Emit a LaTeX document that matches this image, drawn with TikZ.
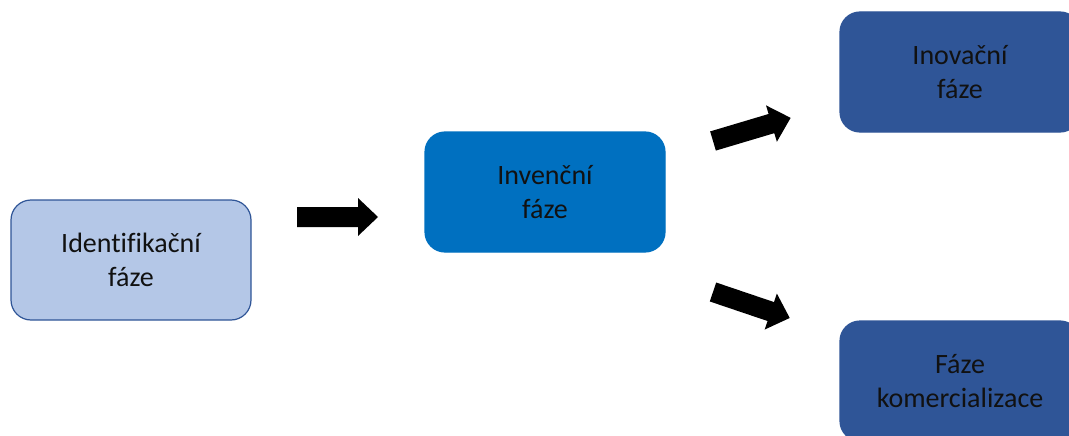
\documentclass[tikz,border=0pt]{standalone}
\usepackage{fontspec}
\setmainfont{Carlito}[Ligatures=NoCommon]
\definecolor{lightblue}{HTML}{B4C7E7}
\definecolor{midblue}{HTML}{0070C0}
\definecolor{darkblue}{HTML}{2F5597}
\definecolor{labelink}{HTML}{111111}
\begin{document}
\begin{tikzpicture}[x=1pt,y=-1pt,
  phase/.style={rectangle, rounded corners=20pt, minimum width=240pt,
    minimum height=120pt, line width=1.2pt, align=center, inner sep=0pt,
    text=labelink, font=\fontsize{28}{34}\selectfont},
  blockarrow/.style={fill=black}]
\useasboundingbox (0,0) rectangle (1069,436);
\clip (0,0) rectangle (1069,436);

\node[phase, fill=lightblue, draw=darkblue] (ident) at (131,260) {Identifikační\\fáze};
\node[phase, fill=midblue, draw=midblue] (inven) at (545,192) {Invenční\\fáze};
\node[phase, fill=darkblue, draw=darkblue] (inova) at (960,72) {Inovační\\fáze};
\node[phase, fill=darkblue, draw=darkblue] (komer) at (960,381) {Fáze\\komercializace};

% block arrows: shaft 61 long and 20 thick, head 19 long and 38 wide
\foreach \px/\py/\ang in {297/217/0, 713/141/16.6, 713/292/-18.7}{
  \fill[blockarrow, shift={(\px,\py)}, rotate=\ang]
    (0,-10) -- (61,-10) -- (61,-19) -- (81,0) -- (61,19) -- (61,10) -- (0,10) -- cycle;
}
\end{tikzpicture}
\end{document}
